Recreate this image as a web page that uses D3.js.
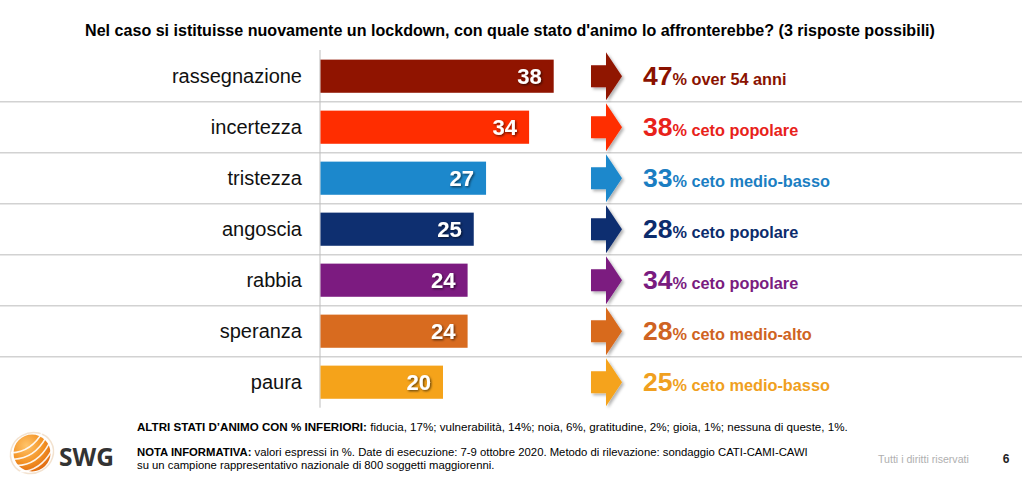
<!DOCTYPE html>
<html>
<head>
<meta charset="utf-8">
<script src="https://cdn.jsdelivr.net/npm/d3@7"></script>
<style>
  html, body { margin: 0; padding: 0; background: #fff; }
  svg { display: block; font-family: "Liberation Sans", Arial, sans-serif; }
</style>
</head>
<body>
<svg id="chart" width="1022" height="482"></svg>
<script>
// ---- data ----
const categories = ["rassegnazione", "incertezza", "tristezza", "angoscia", "rabbia", "speranza", "paura"];
const values = [38, 34, 27, 25, 24, 24, 20];
const highlightValues = [47, 38, 33, 28, 34, 28, 25];
const highlightLabels = ["% over 54 anni", "% ceto popolare", "% ceto medio-basso", "% ceto popolare", "% ceto popolare", "% ceto medio-alto", "% ceto medio-basso"];
const barColors = ["#901400", "#FF2D00", "#1C88CC", "#0E2F70", "#7C1B80", "#D86B1F", "#F5A31A"];
const textColors = ["#8A1200", "#E8221A", "#1B7EC2", "#0C2C6C", "#7A1C7F", "#CF6322", "#F0A020"];
const title = "Nel caso si istituisse nuovamente un lockdown, con quale stato d'animo lo affronterebbe? (3 risposte possibili)";
const noteOtherBold = "ALTRI STATI D\u2019ANIMO CON % INFERIORI:";
const noteOther = " fiducia, 17%; vulnerabilità, 14%; noia, 6%, gratitudine, 2%; gioia, 1%; nessuna di queste, 1%.";
const noteInfoBold = "NOTA INFORMATIVA:";
const noteInfo1 = " valori espressi in %. Date di esecuzione: 7-9 ottobre 2020. Metodo di rilevazione: sondaggio CATI-CAMI-CAWI";
const noteInfo2 = "su un campione rappresentativo nazionale di 800 soggetti maggiorenni.";

const svg = d3.select("#chart");

const defs = svg.append("defs");
const sh = defs.append("filter").attr("id", "txtshadow").attr("x", "-20%").attr("y", "-20%").attr("width", "160%").attr("height", "160%");
sh.append("feDropShadow").attr("dx", 1.2).attr("dy", 1.2).attr("stdDeviation", 0.8).attr("flood-color", "#000").attr("flood-opacity", 0.6);
const ash = defs.append("filter").attr("id", "arrowshadow").attr("x", "-30%").attr("y", "-30%").attr("width", "170%").attr("height", "170%");
ash.append("feDropShadow").attr("dx", 2).attr("dy", 2).attr("stdDeviation", 1.5).attr("flood-color", "#000").attr("flood-opacity", 0.3);

// ---- scales ----
const y = d3.scaleBand().domain(categories).range([50.7, 407.7]).paddingInner(0.35).paddingOuter(0.175);
const x = d3.scaleLinear().domain([0, 50]).range([320, 627.5]);
const rowTop = i => 50.7 + i * (407.7 - 50.7) / categories.length;

// title
svg.append("text").attr("x", 510).attr("y", 35.5).attr("text-anchor", "middle")
  .attr("font-weight", "bold").attr("font-size", 15).attr("fill", "#000")
  .text(title)
  .each(function(){ const w = this.getComputedTextLength(); const target = 850; d3.select(this).attr("font-size", 15 * target / w); });

// gridlines (row separators)
const seps = d3.range(1, categories.length).map(rowTop);
svg.append("g").selectAll("line").data(seps).join("line")
  .attr("x1", 0).attr("x2", 1022).attr("y1", d => d).attr("y2", d => d)
  .attr("stroke", "#d2d2d2").attr("stroke-width", 1.6);

// vertical axis line
svg.append("line").attr("x1", x(0)).attr("x2", x(0)).attr("y1", 50).attr("y2", 407.7)
  .attr("stroke", "#bdbdbd").attr("stroke-width", 1);

// category labels
svg.append("g").selectAll("text").data(categories).join("text")
  .attr("x", 302).attr("y", d => y(d) + y.bandwidth() / 2 + 7)
  .attr("text-anchor", "end").attr("font-size", 20).attr("fill", "#111")
  .text(d => d);

// bars
svg.append("g").selectAll("rect").data(values).join("rect")
  .attr("x", x(0) + 0.5).attr("y", (d, i) => y(categories[i]))
  .attr("width", d => x(d) - x(0) - 0.5).attr("height", y.bandwidth())
  .attr("fill", (d, i) => barColors[i]);

// value labels
svg.append("g").selectAll("text").data(values).join("text")
  .attr("x", d => x(d) - 12).attr("y", (d, i) => y(categories[i]) + y.bandwidth() / 2 + 8)
  .attr("text-anchor", "end").attr("font-size", 22).attr("font-weight", "bold").attr("fill", "#fff")
  .attr("filter", "url(#txtshadow)")
  .text(d => d);

// arrows
const arrowPath = cy => {
  const p = d3.path();
  p.moveTo(591, cy - 11);
  p.lineTo(606, cy - 11);
  p.lineTo(606, cy - 24);
  p.lineTo(622, cy);
  p.lineTo(606, cy + 24);
  p.lineTo(606, cy + 11);
  p.lineTo(591, cy + 11);
  p.closePath();
  return p.toString();
};
svg.append("g").selectAll("path").data(categories).join("path")
  .attr("d", d => arrowPath(y(d) + y.bandwidth() / 2))
  .attr("fill", (d, i) => barColors[i])
  .attr("filter", "url(#arrowshadow)");

// highlight texts
const hl = svg.append("g").selectAll("text").data(highlightValues).join("text")
  .attr("x", 643).attr("y", (d, i) => y(categories[i]) + y.bandwidth() / 2 + 9)
  .attr("font-weight", "bold").attr("fill", (d, i) => textColors[i]);
hl.append("tspan").attr("font-size", 26.5).text(d => d);
hl.append("tspan").attr("font-size", 16.3).text((d, i) => highlightLabels[i]);

// footer notes
const narrow = "'Liberation Sans Narrow', 'Arial Narrow', sans-serif";
const f1 = svg.append("text").attr("x", 137).attr("y", 431).attr("font-size", 11.6)
  .attr("font-family", narrow).attr("fill", "#000");
f1.append("tspan").attr("font-weight", "bold").text(noteOtherBold);
f1.append("tspan").text(noteOther);

const f2 = svg.append("text").attr("x", 137).attr("y", 456).attr("font-size", 11.3)
  .attr("font-family", narrow).attr("fill", "#000");
f2.append("tspan").attr("font-weight", "bold").text(noteInfoBold);
f2.append("tspan").text(noteInfo1);
svg.append("text").attr("x", 137).attr("y", 469).attr("font-size", 11.3)
  .attr("font-family", narrow).attr("fill", "#000")
  .text(noteInfo2);

svg.append("text").attr("x", 878).attr("y", 463).attr("font-size", 10.6)
  .attr("font-family", narrow).attr("fill", "#b0b0b0")
  .text("Tutti i diritti riservati");
svg.append("text").attr("x", 1006).attr("y", 463).attr("font-size", 12).attr("font-weight", "bold")
  .attr("text-anchor", "middle").attr("fill", "#222").text("6");

// logo
const logo = svg.append("g").attr("transform", "translate(32,453)");
const grad = defs.append("radialGradient").attr("id", "sph").attr("cx", "35%").attr("cy", "30%").attr("r", "75%");
grad.append("stop").attr("offset", "0%").attr("stop-color", "#FFC46A");
grad.append("stop").attr("offset", "60%").attr("stop-color", "#F39325");
grad.append("stop").attr("offset", "100%").attr("stop-color", "#E06A10");
logo.append("ellipse").attr("rx", 22).attr("ry", 20).attr("transform", "rotate(-30)")
  .attr("fill", "none").attr("stroke", "#f3e2cf").attr("stroke-width", 1.5);
logo.append("circle").attr("r", 18.5).attr("fill", "url(#sph)");
[-9, -2, 5, 12].forEach(o => {
  logo.append("path").attr("d", `M-19,${o} Q0,${o + 8} 19,${o - 6}`)
    .attr("fill", "none").attr("stroke", "#fff").attr("stroke-width", 1.6).attr("opacity", 0.9)
    .attr("transform", "rotate(-25)");
});
svg.append("text").attr("x", 59).attr("y", 466).attr("font-size", 24.5).attr("font-weight", "bold")
  .attr("fill", "#333").attr("font-family", "'Open Sans', 'Liberation Sans', sans-serif").text("SWG");
</script>
</body>
</html>
